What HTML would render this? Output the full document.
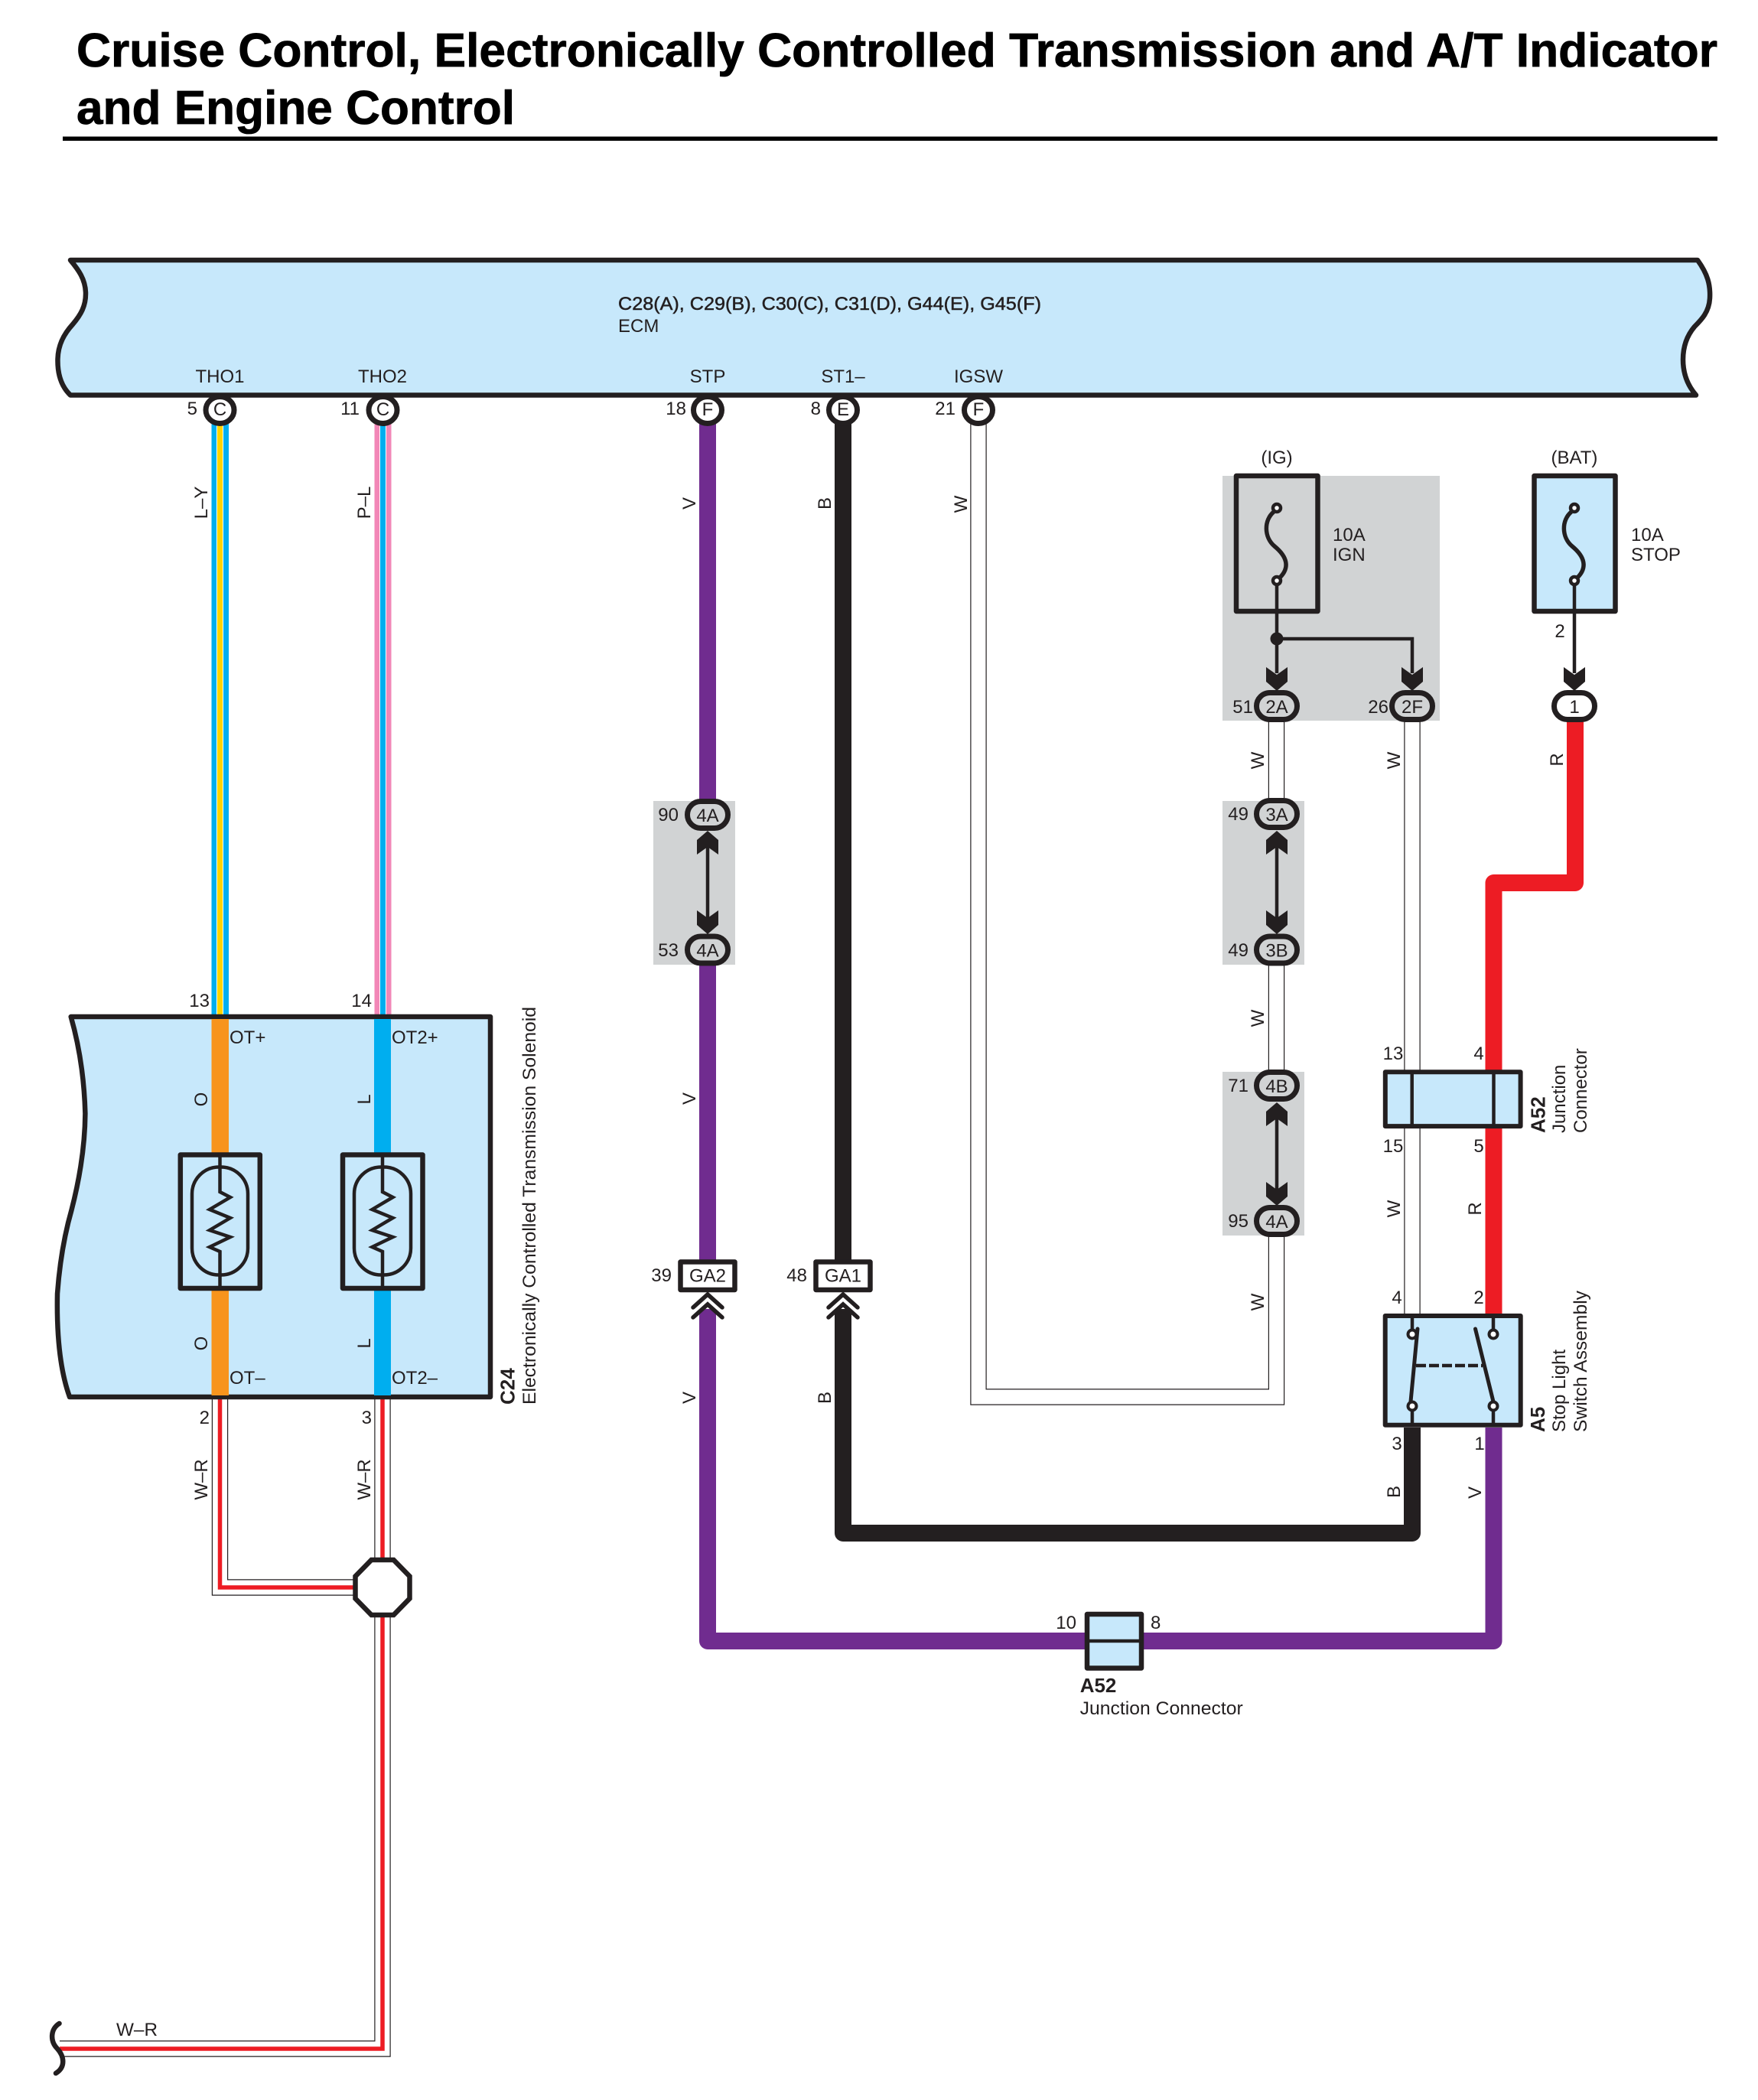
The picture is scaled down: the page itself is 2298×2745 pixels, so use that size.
<!DOCTYPE html>
<html><head><meta charset="utf-8"><style>
html,body{margin:0;padding:0;background:#fff}
svg{display:block}
text{font-family:"Liberation Sans",Arial,sans-serif;font-size:24px;fill:#231f20}
.b{font-weight:bold;font-size:26px}
.m{text-anchor:middle}
.e{text-anchor:end}
</style></head><body>
<svg xmlns="http://www.w3.org/2000/svg" width="2298" height="2745" viewBox="0 0 2298 2745">
<defs>
<path id="ad" d="M0 0L14 -12V-31L0 -21L-14 -31V-12Z" fill="#231f20"/>
<path id="au" d="M0 0L14 12V31L0 21L-14 31V12Z" fill="#231f20"/>
<g id="chev" fill="none" stroke="#231f20" stroke-width="5.5" stroke-linecap="round" stroke-linejoin="miter"><path d="M-19 17L0 0L19 17"/><path d="M-19 30L0 13L19 30"/></g>
<path id="fuse" d="M-4 5C-17 16 -17 38 -3 50C14 64 17 78 4 91" fill="none" stroke="#231f20" stroke-width="5.5"/>
</defs>
<rect width="2298" height="2745" fill="#fff"/>

<!-- Title -->
<text x="100" y="87" class="b" style="font-size:62px;fill:#000;stroke:#000;stroke-width:.8px" textLength="2145" lengthAdjust="spacingAndGlyphs">Cruise Control, Electronically Controlled Transmission and A/T Indicator</text>
<text x="100" y="162" class="b" style="font-size:62px;fill:#000;stroke:#000;stroke-width:.8px" textLength="573" lengthAdjust="spacingAndGlyphs">and Engine Control</text>
<rect x="82" y="178.5" width="2163" height="5.5" fill="#000"/>

<!-- Grey zones -->
<g fill="#d1d3d4">
<rect x="1598" y="622" width="284" height="320"/>
<rect x="854" y="1047" width="107" height="214"/>
<rect x="1598" y="1047" width="107" height="214"/>
<rect x="1598" y="1401" width="107" height="214"/>
</g>

<!-- Colored wires top -->
<rect x="276.5" y="550" width="22.5" height="780" fill="#00aeef"/>
<rect x="283" y="550" width="9" height="780" fill="#fff"/>
<rect x="284" y="550" width="7" height="780" fill="#ffd400"/>
<rect x="489.5" y="550" width="22" height="780" fill="#f287b7"/>
<rect x="496" y="550" width="9" height="780" fill="#fff"/>
<rect x="497" y="550" width="7" height="780" fill="#00aeef"/>

<!-- V wire -->
<g fill="none" stroke="#702c8f" stroke-width="22" stroke-linejoin="round">
<path d="M925 550V1050"/>
<path d="M925 1258V1650"/>
<path d="M925 1711V2145H1952.5V1866"/>
</g>
<!-- B wire -->
<g fill="none" stroke="#231f20" stroke-width="22" stroke-linejoin="round">
<path d="M1102 550V1650"/>
<path d="M1102 1711V2004H1846V1866"/>
</g>
<!-- Red wire -->
<g fill="none" stroke="#ed1c24" stroke-width="22" stroke-linejoin="round">
<path d="M2059 943V1154H1952.5V1400"/>
<path d="M1952.5 1474V1718"/>
</g>
<!-- White wires -->
<g fill="none" stroke="#231f20" stroke-width="21.4">
<path d="M1279 552V1826H1668.5V1612"/>
<path d="M1668.5 942V1048"/>
<path d="M1668.5 1258V1402"/>
<path d="M1846 942V1718"/>
</g>
<g fill="none" stroke="#fff" stroke-width="19">
<path d="M1279 552V1826H1668.5V1612"/>
<path d="M1668.5 942V1048"/>
<path d="M1668.5 1258V1402"/>
<path d="M1846 942V1718"/>
</g>

<!-- W-R wires -->
<g fill="none" stroke="#231f20" stroke-width="21.4">
<path d="M287.5 1826V2075H470"/>
<path d="M500 1826V2678H78"/>
</g>
<g fill="none" stroke="#fff" stroke-width="19">
<path d="M287.5 1826V2075H470"/>
<path d="M500 1826V2678H78"/>
</g>
<g fill="none" stroke="#ed1c24" stroke-width="5.5">
<path d="M287.5 1826V2075H470"/>
<path d="M500 1826V2678H78"/>
</g>
<path d="M77.5 2645C66 2652 65 2668 75 2678C84 2688 86 2702 73 2710" fill="none" stroke="#231f20" stroke-width="6.5" stroke-linecap="round"/>

<!-- ECM -->
<path d="M92 340H2219C2232 358 2236 372 2235 390C2234 408 2224 418 2215 427C2204 440 2200 455 2200 470C2200 490 2207 505 2217 516.5H92C80 505 75 488 75.5 469C76 450 84 436 95 424C106 411 112 400 112 384C112 365 102 352 92 340Z" fill="#c7e8fb" stroke="#231f20" stroke-width="6.5" stroke-linejoin="round"/>
<text x="808" y="405" stroke="#231f20" stroke-width=".5" textLength="553" lengthAdjust="spacingAndGlyphs">C28(A), C29(B), C30(C), C31(D), G44(E), G45(F)</text>
<text x="808" y="434">ECM</text>
<text x="287.5" y="500" class="m">THO1</text>
<text x="500" y="500" class="m">THO2</text>
<text x="925" y="500" class="m">STP</text>
<text x="1102" y="500" class="m">ST1–</text>
<text x="1279" y="500" class="m">IGSW</text>

<!-- ECM connectors -->
<g fill="#fff" stroke="#231f20" stroke-width="7">
<ellipse cx="287.5" cy="536" rx="18.5" ry="17.5"/>
<ellipse cx="500.5" cy="536" rx="18.5" ry="17.5"/>
<ellipse cx="925" cy="536" rx="18.5" ry="17.5"/>
<ellipse cx="1102" cy="536" rx="18.5" ry="17.5"/>
<ellipse cx="1279" cy="536" rx="18.5" ry="17.5"/>
</g>
<text x="287.5" y="543" class="m">C</text>
<text x="500.5" y="543" class="m">C</text>
<text x="925" y="543" class="m">F</text>
<text x="1102" y="543" class="m">E</text>
<text x="1279" y="543" class="m">F</text>
<text x="258" y="542" class="e">5</text>
<text x="470" y="542" class="e">11</text>
<text x="897" y="542" class="e">18</text>
<text x="1073" y="542" class="e">8</text>
<text x="1249" y="542" class="e">21</text>

<!-- Rotated wire labels -->
<g>
<text transform="translate(271,657) rotate(-90)" class="m">L–Y</text>
<text transform="translate(484,657) rotate(-90)" class="m">P–L</text>
<text transform="translate(909,658) rotate(-90)" class="m">V</text>
<text transform="translate(1086,658) rotate(-90)" class="m">B</text>
<text transform="translate(1264,659) rotate(-90)" class="m">W</text>
<text transform="translate(1652,994) rotate(-90)" class="m">W</text>
<text transform="translate(1830,994) rotate(-90)" class="m">W</text>
<text transform="translate(2043,993) rotate(-90)" class="m">R</text>
<text transform="translate(909,1436) rotate(-90)" class="m">V</text>
<text transform="translate(1652,1331) rotate(-90)" class="m">W</text>
<text transform="translate(1652,1702) rotate(-90)" class="m">W</text>
<text transform="translate(1830,1580) rotate(-90)" class="m">W</text>
<text transform="translate(1936,1580) rotate(-90)" class="m">R</text>
<text transform="translate(909,1827) rotate(-90)" class="m">V</text>
<text transform="translate(1086,1827) rotate(-90)" class="m">B</text>
<text transform="translate(1830,1950) rotate(-90)" class="m">B</text>
<text transform="translate(1936,1951) rotate(-90)" class="m">V</text>
<text transform="translate(271,1934) rotate(-90)" class="m">W–R</text>
<text transform="translate(484,1934) rotate(-90)" class="m">W–R</text>
</g>

<!-- Fuses -->
<rect x="1616" y="622" width="106.5" height="177" fill="#d1d3d4" stroke="#231f20" stroke-width="6.5" stroke-linejoin="round"/>
<rect x="2005.5" y="622" width="106" height="177" fill="#c7e8fb" stroke="#231f20" stroke-width="6.5" stroke-linejoin="round"/>
<g fill="none" stroke="#231f20" stroke-width="4.5">
<path d="M1669 764V880"/>
<path d="M1669 835H1846V880"/>
<path d="M2058 764V880"/>
<path d="M925 1100V1200"/>
<path d="M1669 1100V1200"/>
<path d="M1669 1455V1555"/>
</g>
<use href="#fuse" x="1669" y="664"/>
<use href="#fuse" x="2058" y="664"/>
<g stroke="#231f20" stroke-width="4.5">
<circle cx="1669" cy="664" r="5" fill="#fff"/>
<circle cx="1669" cy="759" r="5" fill="#fff"/>
<circle cx="2058" cy="664" r="5" fill="#fff"/>
<circle cx="2058" cy="759" r="5" fill="#fff"/>
</g>
<circle cx="1669" cy="835" r="8.5" fill="#231f20"/>
<text x="1669" y="606" class="m">(IG)</text>
<text x="2058" y="606" class="m">(BAT)</text>
<text x="1742" y="707">10A</text>
<text x="1742" y="733">IGN</text>
<text x="2132" y="707">10A</text>
<text x="2132" y="733">STOP</text>
<text x="2039" y="833" class="m">2</text>

<!-- Arrows -->
<use href="#ad" x="1669" y="903"/>
<use href="#ad" x="1846" y="903"/>
<use href="#ad" x="2058" y="903"/>
<use href="#au" x="925" y="1086"/>
<use href="#ad" x="925" y="1221"/>
<use href="#au" x="1669" y="1086"/>
<use href="#ad" x="1669" y="1221"/>
<use href="#au" x="1669" y="1441"/>
<use href="#ad" x="1669" y="1576"/>

<!-- Stadium connectors -->
<g stroke="#231f20" stroke-width="7" fill="#d1d3d4">
<rect x="1642.5" y="905.5" width="53" height="35" rx="17.5"/>
<rect x="1819.5" y="905.5" width="53" height="35" rx="17.5"/>
<rect x="2031.5" y="905.5" width="53" height="35" rx="17.5" fill="#fff"/>
<rect x="898.5" y="1047.5" width="53" height="35" rx="17.5"/>
<rect x="898.5" y="1224" width="53" height="35" rx="17.5"/>
<rect x="1642.5" y="1046.5" width="53" height="35" rx="17.5"/>
<rect x="1642.5" y="1224" width="53" height="35" rx="17.5"/>
<rect x="1642.5" y="1401.5" width="53" height="35" rx="17.5"/>
<rect x="1642.5" y="1578.5" width="53" height="35" rx="17.5"/>
</g>
<g class="m">
<text x="1669" y="932" class="m">2A</text>
<text x="1846" y="932" class="m">2F</text>
<text x="2058" y="932" class="m">1</text>
<text x="925" y="1074" class="m">4A</text>
<text x="925" y="1250.5" class="m">4A</text>
<text x="1669" y="1073" class="m">3A</text>
<text x="1669" y="1250.5" class="m">3B</text>
<text x="1669" y="1428" class="m">4B</text>
<text x="1669" y="1605" class="m">4A</text>
</g>
<text x="1638" y="932" class="e">51</text>
<text x="1815" y="932" class="e">26</text>
<text x="887" y="1073" class="e">90</text>
<text x="887" y="1250" class="e">53</text>
<text x="1632" y="1072" class="e">49</text>
<text x="1632" y="1250" class="e">49</text>
<text x="1632" y="1427" class="e">71</text>
<text x="1632" y="1604" class="e">95</text>

<!-- GA connectors -->
<g fill="#fff" stroke="#231f20" stroke-width="6.5" stroke-linejoin="round">
<rect x="889.5" y="1649.5" width="71" height="36.5"/>
<rect x="1066.5" y="1649.5" width="71" height="36.5"/>
</g>
<text x="925" y="1675.5" class="m">GA2</text>
<text x="1102" y="1675.5" class="m">GA1</text>
<text x="878" y="1675" class="e">39</text>
<text x="1055" y="1675" class="e">48</text>
<use href="#chev" x="925" y="1692"/>
<use href="#chev" x="1102" y="1692"/>

<!-- C24 -->
<path d="M92.7 1329H641V1826H91C78 1790 74 1740 75 1691C78 1650 84 1615 93.5 1581.7C103 1545 111 1500 111.4 1455.5C110 1405 103 1365 92.7 1329Z" fill="#c7e8fb" stroke="#231f20" stroke-width="6.5" stroke-linejoin="round"/>
<rect x="276.5" y="1332" width="22.5" height="492" fill="#f7941d"/>
<rect x="489" y="1332" width="22" height="492" fill="#00aeef"/>
<g fill="#c7e8fb" stroke="#231f20" stroke-width="6.5" stroke-linejoin="round">
<rect x="235.8" y="1509.5" width="104" height="174.5"/>
<rect x="448" y="1509.5" width="104.5" height="174.5"/>
</g>
<g fill="none" stroke="#231f20" stroke-width="4.5">
<rect x="251" y="1525.5" width="73" height="141" rx="35"/>
<rect x="463" y="1525.5" width="74" height="141" rx="35"/>
<path d="M287.5 1509V1558L301 1565L274 1581L301 1592L274 1608L301 1617L274 1630L287.5 1636V1684"/>
<path d="M500 1509V1558L513.5 1565L486.5 1581L513.5 1592L486.5 1608L513.5 1617L486.5 1630L500 1636V1684"/>
</g>
<text x="300" y="1364">OT+</text>
<text x="512" y="1364">OT2+</text>
<text x="300" y="1809">OT–</text>
<text x="512" y="1809">OT2–</text>
<text transform="translate(271,1437) rotate(-90)" class="m">O</text>
<text transform="translate(484,1437) rotate(-90)" class="m">L</text>
<text transform="translate(271,1756) rotate(-90)" class="m">O</text>
<text transform="translate(484,1756) rotate(-90)" class="m">L</text>
<text x="274" y="1316" class="e">13</text>
<text x="486" y="1316" class="e">14</text>
<text x="274" y="1861" class="e">2</text>
<text x="486" y="1861" class="e">3</text>
<text transform="translate(672.6,1836) rotate(-90)" class="b">C24</text>
<text transform="translate(700,1836) rotate(-90)" textLength="520" lengthAdjust="spacingAndGlyphs">Electronically Controlled Transmission Solenoid</text>

<!-- Splice -->
<polygon points="485.5,2039 514.5,2039 535.5,2060.5 535.5,2089.5 514.5,2111 485.5,2111 464.5,2089.5 464.5,2060.5" fill="#fff" stroke="#231f20" stroke-width="6.5"/>
<text x="152" y="2661" textLength="54" lengthAdjust="spacingAndGlyphs">W–R</text>

<!-- A52 side -->
<rect x="1810.8" y="1401.3" width="176.8" height="70.8" fill="#c7e8fb" stroke="#231f20" stroke-width="6" stroke-linejoin="round"/>
<path d="M1845.7 1401V1472M1952.5 1401V1472" stroke="#231f20" stroke-width="4.5"/>
<text x="1821" y="1385" class="m">13</text>
<text x="1933" y="1385" class="m">4</text>
<text x="1821" y="1506" class="m">15</text>
<text x="1933" y="1506" class="m">5</text>
<text transform="translate(2019.6,1481) rotate(-90)" class="b">A52</text>
<text transform="translate(2046,1481) rotate(-90)">Junction</text>
<text transform="translate(2074,1481) rotate(-90)">Connector</text>

<!-- A5 switch -->
<rect x="1810.7" y="1720" width="177" height="142.7" fill="#c7e8fb" stroke="#231f20" stroke-width="6" stroke-linejoin="round"/>
<g fill="none" stroke="#231f20">
<path d="M1846 1720V1737M1952 1720V1737M1846 1845V1862M1952 1845V1862" stroke-width="4.5"/>
<path d="M1844 1832L1853 1737M1952 1832L1928.5 1737" stroke-width="5" stroke-linecap="round"/>
<path d="M1851 1785H1938" stroke-width="4.5" stroke-dasharray="13 4"/>
</g>
<g fill="#fff" stroke="#231f20" stroke-width="4">
<circle cx="1846" cy="1744" r="5.5"/>
<circle cx="1952" cy="1744" r="5.5"/>
<circle cx="1846" cy="1838" r="5.5"/>
<circle cx="1952" cy="1838" r="5.5"/>
</g>
<text x="1826" y="1704" class="m">4</text>
<text x="1933" y="1704" class="m">2</text>
<text x="1826" y="1895" class="m">3</text>
<text x="1934" y="1895" class="m">1</text>
<text transform="translate(2019,1872) rotate(-90)" class="b">A5</text>
<text transform="translate(2046,1872) rotate(-90)">Stop Light</text>
<text transform="translate(2074,1872) rotate(-90)" textLength="185" lengthAdjust="spacingAndGlyphs">Switch Assembly</text>

<!-- A52 bottom -->
<rect x="1421" y="2110" width="71" height="70.5" fill="#c7e8fb" stroke="#231f20" stroke-width="6.5" stroke-linejoin="round"/>
<path d="M1421 2145H1492" stroke="#231f20" stroke-width="4.5"/>
<text x="1407" y="2129" class="e">10</text>
<text x="1504" y="2129">8</text>
<text x="1411.7" y="2212" class="b">A52</text>
<text x="1411.7" y="2241" textLength="213" lengthAdjust="spacingAndGlyphs">Junction Connector</text>
</svg>
</body></html>
